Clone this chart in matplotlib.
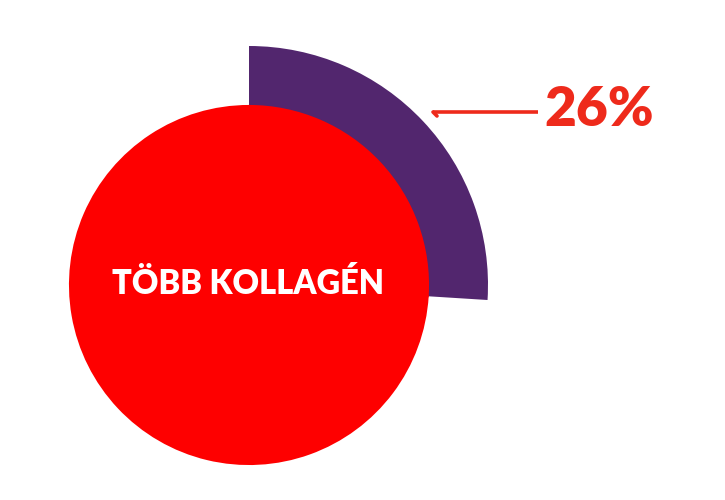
import matplotlib
matplotlib.use("Agg")
import matplotlib.pyplot as plt

# Data
shares = [26, 74]
highlight_label = "26%"
center_label = "TÖBB KOLLAGÉN"

purple = "#52266e"
red = "#fe0000"
label_red = "#ee2a1b"

fig = plt.figure(figsize=(7.25, 5.0), dpi=100)
ax = fig.add_axes([0, 0, 1, 1])

cx, cy = 249, 215
# outer purple wedge (26%)
ax.pie(shares, colors=[purple, "none"], radius=239, center=(cx, cy),
       startangle=90, counterclock=False, frame=True,
       wedgeprops=dict(linewidth=0))
# red full disc
ax.pie(shares, colors=[red, red], radius=179, center=(cx, cy),
       startangle=90, counterclock=False, frame=True,
       wedgeprops=dict(linewidth=1.5, edgecolor=red))
ax.set_xlim(0, 725)
ax.set_ylim(0, 500)
ax.set_aspect("equal")
ax.axis("off")

# leader line
ax.plot([433, 538], [388, 388], color=label_red, lw=2.6, solid_capstyle="butt")
ax.plot([433, 437], [388, 384], color=label_red, lw=2.6, solid_capstyle="round")

ax.text(544, 390, highlight_label, color=label_red, fontsize=39.5,
        fontweight="heavy", family="Lato", ha="left", va="center")
ax.text(248, 216, center_label, color="white", fontsize=23.5,
        fontweight="heavy", family="Lato", ha="center", va="center")

fig.savefig("out.png", dpi=100, facecolor="white")
